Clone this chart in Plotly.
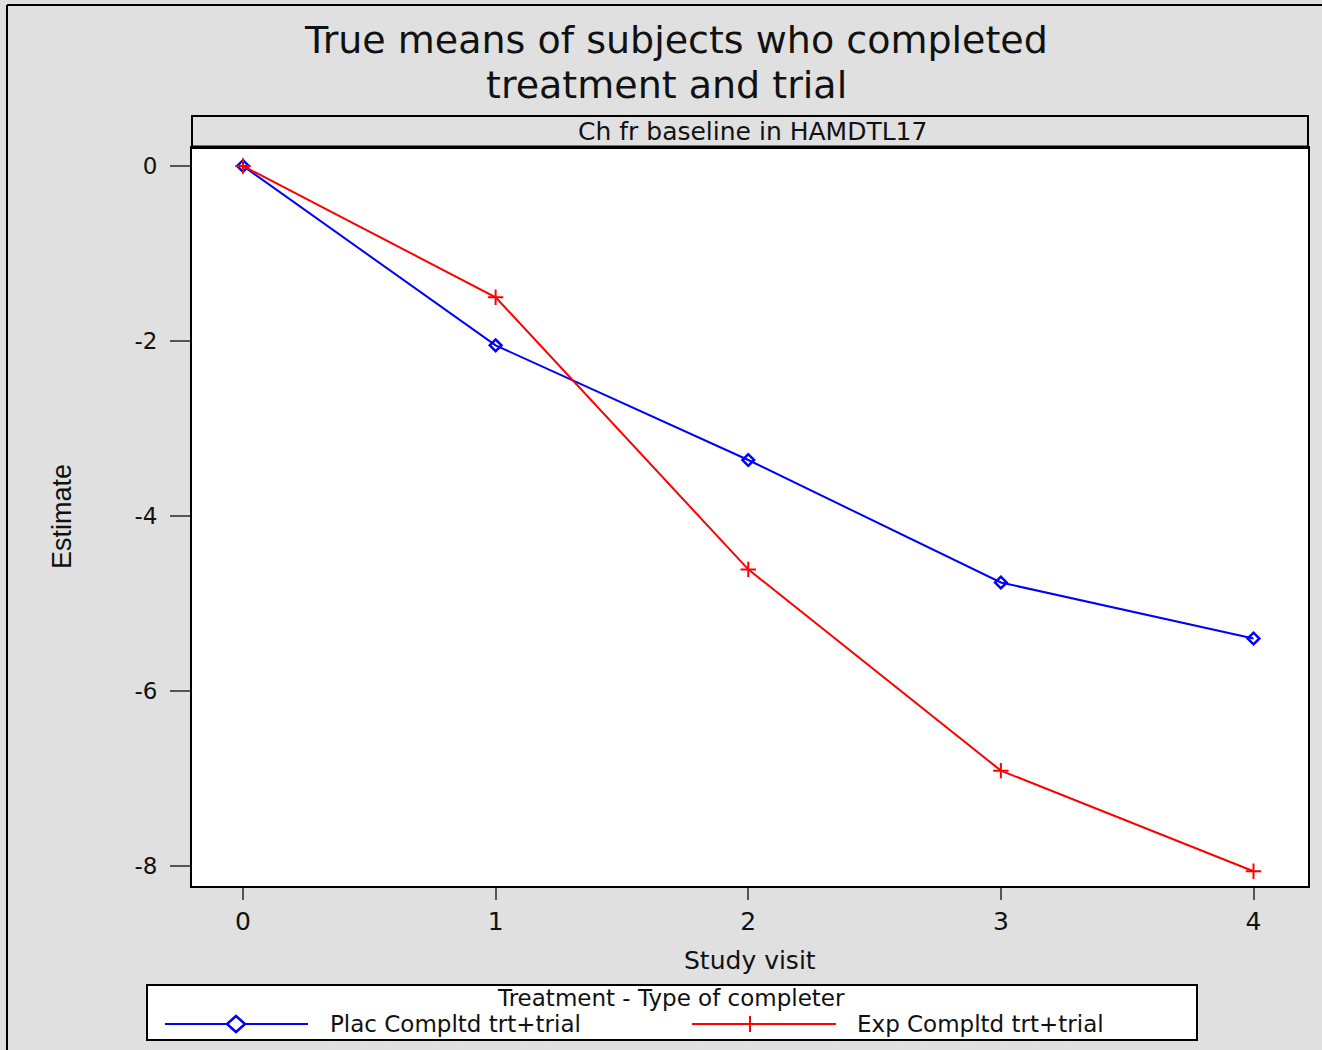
import plotly.graph_objects as go

# Study visits and estimated change from baseline (HAMD total, 17 items)
visits = [0, 1, 2, 3, 4]
plac_completed = [0.0, -2.05, -3.36, -4.76, -5.40]
exp_completed = [0.0, -1.50, -4.61, -6.91, -8.06]

series_names = ["Plac Compltd trt+trial", "Exp Compltd trt+trial"]
y_ticks = [0, -2, -4, -6, -8]
x_ticks = [0, 1, 2, 3, 4]

W, H = 1322, 1050
BG = "#e0e0e0"
FONT = "DejaVu Sans, Liberation Sans, Arial, sans-serif"
TXT = "#111111"
BLUE = "#0000ff"
RED = "#ff0000"

# plot panel in pixels
PX0, PX1 = 192, 1308
PY0, PY1 = 148, 886


def px(x):
    return x / W


def py(y):
    return 1 - y / H


fig = go.Figure()

fig.add_trace(go.Scatter(
    x=visits, y=plac_completed, mode="lines+markers", name=series_names[0],
    line=dict(color=BLUE, width=2),
    marker=dict(symbol="diamond-open", size=9, color=BLUE, line=dict(width=2.5, color=BLUE)),
    showlegend=False,
))
fig.add_trace(go.Scatter(
    x=visits, y=exp_completed, mode="lines+markers", name=series_names[1],
    line=dict(color=RED, width=2),
    marker=dict(symbol="cross-thin", size=11, color=RED, line=dict(width=2, color=RED)),
    showlegend=False,
))

# axis ranges so ticks land where the panel expects them
x_unit = (1253.5 - 243) / 4
x_lo = -(243 - PX0) / x_unit
x_hi = 4 + (PX1 - 1253.5) / x_unit
y_unit = (866 - 166) / 8
y_hi = (166 - PY0) / y_unit
y_lo = -8 - (PY1 - 866) / y_unit

fig.update_layout(
    width=W, height=H, autosize=False,
    margin=dict(l=0, r=0, t=0, b=0),
    paper_bgcolor=BG, plot_bgcolor="white",
    font=dict(family=FONT, color=TXT),
    xaxis=dict(
        domain=[px(PX0), px(PX1)], range=[x_lo, x_hi],
        tickvals=x_ticks, ticktext=[str(v) for v in x_ticks],
        ticks="outside", ticklen=12, tickwidth=2, tickcolor="#555555",
        tickfont=dict(size=25, family=FONT, color=TXT),
        ticklabelstandoff=0,
        showline=True, linecolor="black", linewidth=2, mirror=True,
        showgrid=False, zeroline=False,
    ),
    yaxis=dict(
        domain=[py(PY1), py(PY0)], range=[y_lo, y_hi],
        tickvals=y_ticks, ticktext=[str(v) for v in y_ticks],
        ticks="outside", ticklen=20, tickwidth=1.5, tickcolor="#555555",
        tickfont=dict(size=23, family=FONT, color=TXT),
        ticklabelstandoff=8,
        showline=True, linecolor="black", linewidth=2, mirror=True,
        showgrid=False, zeroline=False,
    ),
    showlegend=False,
)


def line_shape(x0, y0, x1, y1, color, width):
    return dict(type="line", xref="paper", yref="paper",
                x0=px(x0), y0=py(y0), x1=px(x1), y1=py(y1),
                line=dict(color=color, width=width))


def diamond_path(cx, cy, hw, hh):
    pts = [(cx, cy - hh), (cx + hw, cy), (cx, cy + hh), (cx - hw, cy)]
    return "M " + " L ".join(f"{px(a):.5f},{py(b):.5f}" for a, b in pts) + " Z"


leg_y = 1024
shapes = [
    # outer frame (top and left edges)
    dict(type="line", xref="paper", yref="paper", x0=px(7), x1=1, y0=py(5), y1=py(5),
         line=dict(color="black", width=2)),
    dict(type="line", xref="paper", yref="paper", x0=px(7), x1=px(7), y0=py(5), y1=0,
         line=dict(color="black", width=2)),
    # strip header above the panel
    dict(type="rect", xref="paper", yref="paper", x0=px(PX0), x1=px(PX1), y0=py(PY0), y1=py(116),
         fillcolor=BG, line=dict(color="black", width=2), layer="above"),
    line_shape(PX0, PY0 - 1, PX1, PY0 - 1, "black", 3),
    # legend frame
    dict(type="rect", xref="paper", yref="paper", x0=px(147), x1=px(1197), y0=py(1040), y1=py(985),
         fillcolor="white", line=dict(color="black", width=2), layer="below"),
    # legend keys
    line_shape(165, leg_y, 308, leg_y, BLUE, 2),
    dict(type="path", xref="paper", yref="paper", path=diamond_path(236, leg_y, 9, 8),
         fillcolor="white", line=dict(color=BLUE, width=2.5)),
    line_shape(692, leg_y, 836, leg_y, RED, 2),
    line_shape(750, leg_y - 8, 750, leg_y + 8, RED, 2),
]
fig.update_layout(shapes=shapes)


def label(text, x, y, size, anchor="center", angle=0, family=FONT):
    return dict(text=text, x=px(x), y=py(y), xref="paper", yref="paper",
                showarrow=False, xanchor=anchor, yanchor="middle", textangle=angle,
                font=dict(size=size, family=family, color=TXT))


annotations = [
    label("True means of subjects who completed", 676, 40, 38),
    label("treatment and trial", 666, 85, 38),
    label("Ch fr baseline in HAMDTL17", 752, 132, 25),
    label("Study visit", 750, 960, 25),
    label("Estimate", 62, 517, 27, angle=-90, family="Liberation Sans, Arial, sans-serif"),
    label("Treatment - Type of completer", 671, 998, 23),
    label(series_names[0], 328, leg_y, 23, anchor="left"),
    label(series_names[1], 855, leg_y, 23, anchor="left"),
]
fig.update_layout(annotations=annotations)

fig.write_html("out.html")
